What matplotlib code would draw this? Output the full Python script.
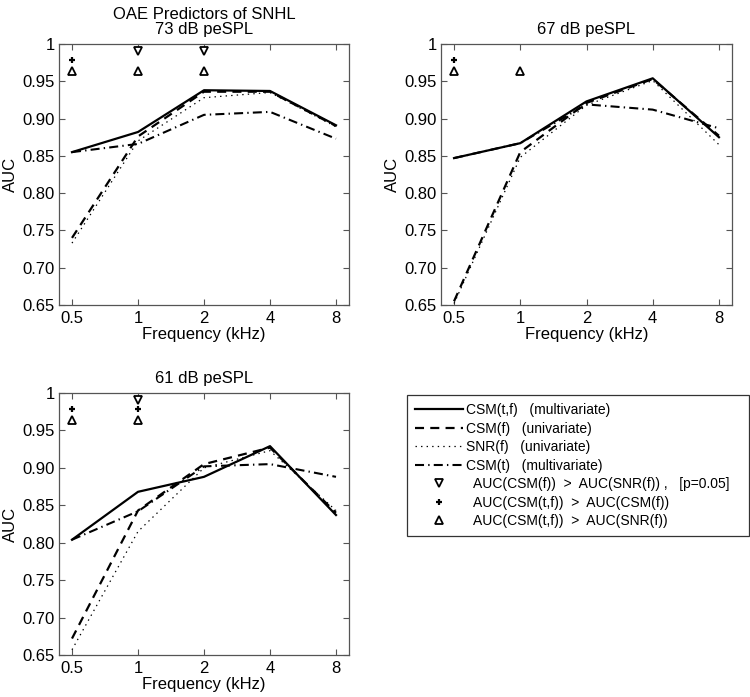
import numpy as np
import matplotlib
matplotlib.use('Agg')
import matplotlib.pyplot as plt
from matplotlib.lines import Line2D

plt.rcParams['font.family'] = ['Liberation Sans', 'DejaVu Sans']
plt.rcParams['font.size'] = 12
plt.rcParams['lines.scale_dashes'] = False

freq = [0.5, 1, 2, 4, 8]
xticklabels = ['0.5', '1', '2', '4', '8']
yticks = [0.65, 0.70, 0.75, 0.80, 0.85, 0.90, 0.95, 1.0]
yticklabels = ['0.65', '0.70', '0.75', '0.80', '0.85', '0.90', '0.95', '1']

titles = ['OAE Predictors of SNHL\n73 dB peSPL', '67 dB peSPL', '61 dB peSPL']

# AUC per panel (73, 67, 61 dB peSPL)
csm_tf = [[0.855, 0.882, 0.938, 0.937, 0.891],
          [0.847, 0.867, 0.923, 0.954, 0.875],
          [0.804, 0.868, 0.888, 0.929, 0.837]]
csm_f = [[0.740, 0.876, 0.936, 0.936, 0.890],
         [0.655, 0.855, 0.921, 0.953, 0.877],
         [0.672, 0.843, 0.905, 0.927, 0.840]]
snr_f = [[0.733, 0.870, 0.928, 0.935, 0.889],
         [0.652, 0.848, 0.918, 0.951, 0.865],
         [0.657, 0.815, 0.900, 0.923, 0.843]]
csm_t = [[0.855, 0.866, 0.905, 0.909, 0.873],
         [0.847, 0.867, 0.919, 0.912, 0.887],
         [0.804, 0.842, 0.902, 0.905, 0.888]]

# frequencies with significant differences
sig_csmf_snr = [[1, 2], [], [1]]
sig_csmtf_csmf = [[0.5], [0.5], [0.5, 1]]
sig_csmtf_snr = [[0.5, 1, 2], [0.5, 1], [0.5, 1]]

labels = ['CSM(t,f)   (multivariate)',
          'CSM(f)   (univariate)',
          'SNR(f)   (univariate)',
          'CSM(t)   (multivariate)',
          '  AUC(CSM(f))  >  AUC(SNR(f)) ,   [p=0.05]',
          '  AUC(CSM(t,f))  >  AUC(CSM(f))',
          '  AUC(CSM(t,f))  >  AUC(SNR(f))']

styles = [dict(color='k', lw=1.6, ls='-'),
          dict(color='k', lw=1.6, ls=(0, (6.5, 4.5))),
          dict(color='k', lw=0.9, ls=(0, (1, 3))),
          dict(color='k', lw=1.5, ls=(0, (6.5, 3, 1, 3)))]
mk_down = dict(marker='v', ms=5.5, mfc='white', mec='k', mew=1.3, ls='none')
mk_plus = dict(marker='+', ms=4.5, mec='k', mew=1.6, ls='none')
mk_up = dict(marker='^', ms=5.5, mfc='white', mec='k', mew=1.3, ls='none')

W, H = 750, 697
fig = plt.figure(figsize=(7.5, 6.97), dpi=100)
rects = [[59 / W, 1 - 305 / H, 290 / W, 261 / H],
         [441 / W, 1 - 305 / H, 291 / W, 261 / H],
         [59 / W, 1 - 655 / H, 290 / W, 262 / H]]

spine_col = '#555555'
for i, r in enumerate(rects):
    ax = fig.add_axes(r)
    series = [csm_tf[i], csm_f[i], snr_f[i], csm_t[i]]
    for s, st in zip(series[::-1], styles[::-1]):
        ax.plot(freq, s, **st)
    ax.plot(sig_csmf_snr[i], [0.991] * len(sig_csmf_snr[i]), **mk_down)
    ax.plot(sig_csmtf_csmf[i], [0.978] * len(sig_csmtf_csmf[i]), **mk_plus)
    ax.plot(sig_csmtf_snr[i], [0.964] * len(sig_csmtf_snr[i]), **mk_up)
    ax.set_xscale('log', base=2)
    ax.set_xlim(0.5 * 2 ** (-13 / 66), 8 * 2 ** (13 / 66))
    ax.set_ylim(0.65, 1.0)
    ax.set_xticks(freq)
    ax.set_xticklabels(xticklabels)
    ax.minorticks_off()
    ax.set_yticks(yticks)
    ax.set_yticklabels(yticklabels)
    ax.tick_params(direction='in', length=4, top=True, right=True,
                   color=spine_col, labelsize=12)
    ax.tick_params(axis='x', pad=4)
    ax.tick_params(axis='y', pad=3)
    for sp in ax.spines.values():
        sp.set_color(spine_col)
        sp.set_linewidth(0.9)
    ax.set_xlabel('Frequency (kHz)', labelpad=1)
    ax.set_ylabel('AUC', labelpad=3)
    ax.set_title(titles[i], fontsize=12, pad=7, linespacing=1.0)

handles = [Line2D([], [], **st) for st in styles]
handles += [Line2D([], [], **mk_down), Line2D([], [], **mk_plus), Line2D([], [], **mk_up)]
leg = fig.legend(handles, labels, loc='upper left',
                 bbox_to_anchor=(407 / W, 1 - 539 / H, 342 / W, 144 / H),
                 mode='expand', borderaxespad=0, fancybox=False,
                 edgecolor='#333333', framealpha=1, handlelength=3.4,
                 handletextpad=0.25, labelspacing=0.32, borderpad=0.6,
                 fontsize=10)
leg.get_frame().set_linewidth(0.9)

fig.savefig('out.png', dpi=100)
